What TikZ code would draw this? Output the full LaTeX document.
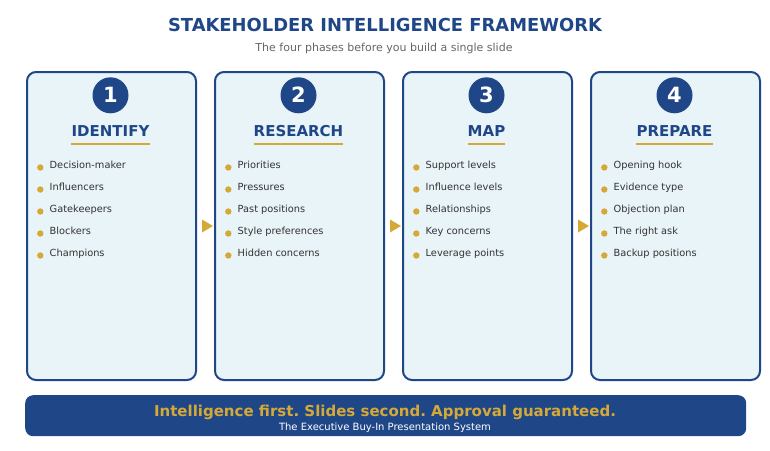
\documentclass[tikz,border=0pt]{standalone}
\usepackage{fontspec}
\usetikzlibrary{calc}
\setmainfont{DejaVu Sans}
\frenchspacing
\definecolor{navy}{HTML}{1F4788}
\definecolor{gold}{HTML}{D4A937}
\definecolor{pale}{HTML}{E8F4F8}
\definecolor{ink}{HTML}{333333}
\definecolor{subgray}{HTML}{666666}
\tikzset{
  phasebox/.style={draw=navy, line width=2pt, fill=pale, rounded corners=9pt},
  numdisc/.style={circle, fill=navy, minimum size=36pt, inner sep=0pt},
  numtext/.style={anchor=base, text=white, font=\fontsize{21}{21}\selectfont\bfseries, inner sep=0pt},
  headtext/.style={anchor=base, text=navy, font=\fontsize{15}{15}\selectfont\bfseries, inner sep=0pt},
  itemtext/.style={anchor=base west, text=ink, font=\fontsize{9.8}{9.8}\selectfont, inner sep=0pt},
  bulletdot/.style={circle, fill=gold, minimum size=6.4pt, inner sep=0pt},
  flowarrow/.style={fill=gold, draw=none},
  goldrule/.style={draw=gold, line width=2pt},
}
\begin{document}
\begin{tikzpicture}[x=1pt, y=-1pt]
\useasboundingbox (0,0) rectangle (770,450);
\fill[white] (0,0) rectangle (770,450);
% title
\node[anchor=base, text=navy, font=\fontsize{17.9}{17.9}\selectfont\bfseries, inner sep=0pt] (title) at (385,31) {STAKEHOLDER INTELLIGENCE FRAMEWORK};
\node[anchor=base, text=subgray, font=\fontsize{11}{11}\selectfont, inner sep=0pt] (subtitle) at (384,51) {The four phases before you build a single slide};
% phases
\foreach \i/\lx/\num/\head/\a/\b/\c/\d/\e in {
  1/26/1/IDENTIFY/Decision-maker/Influencers/Gatekeepers/Blockers/Champions,
  2/214/2/RESEARCH/Priorities/Pressures/Past positions/Style preferences/Hidden concerns,
  3/402/3/MAP/Support levels/Influence levels/Relationships/Key concerns/Leverage points,
  4/590/4/PREPARE/Opening hook/Evidence type/Objection plan/The right ask/Backup positions}{
  \pgfmathsetmacro{\cx}{\lx+84.5}
  \node[phasebox, minimum width=169pt, minimum height=308pt, anchor=north west, inner sep=0pt] (box\i) at (\lx,71) {};
  \node[numdisc] (disc\i) at (\cx,95.3) {};
  \node[numtext] (num\i) at (\cx,102.3) {\num};
  \node[headtext] (head\i) at (\cx,136) {\head};
  \draw[goldrule] (head\i.south west |- 0,144) -- (head\i.south east |- 0,144);
  \foreach \t [count=\k from 0] in {\a,\b,\c,\d,\e}{
    \node[bulletdot] (dot\i\k) at (\lx+14.3,167.5+22*\k) {};
    \node[itemtext] (item\i\k) at (\lx+23.5,168+22*\k) {\t};
  }
}
% arrows between phases
\foreach \i in {1,2,3}{
  \fill[flowarrow] ($(box\i.east)+(5,-6.5)$) -- ($(box\i.east)+(5,6.5)$) -- ($(box\i.east)+(16,0)$) -- cycle;
}
% banner
\node[fill=navy, rounded corners=8pt, minimum width=721pt, minimum height=41pt, anchor=north west, inner sep=0pt] (banner) at (25,395) {};
\node[anchor=base, text=gold, font=\fontsize{15}{15}\selectfont\bfseries, inner sep=0pt] (tagline) at (385,416) {Intelligence first. Slides second. Approval guaranteed.};
\node[anchor=base, text=white, font=\fontsize{10}{10}\selectfont, inner sep=0pt] (system) at (385,430.7) {The Executive Buy-In Presentation System};
\end{tikzpicture}
\end{document}
